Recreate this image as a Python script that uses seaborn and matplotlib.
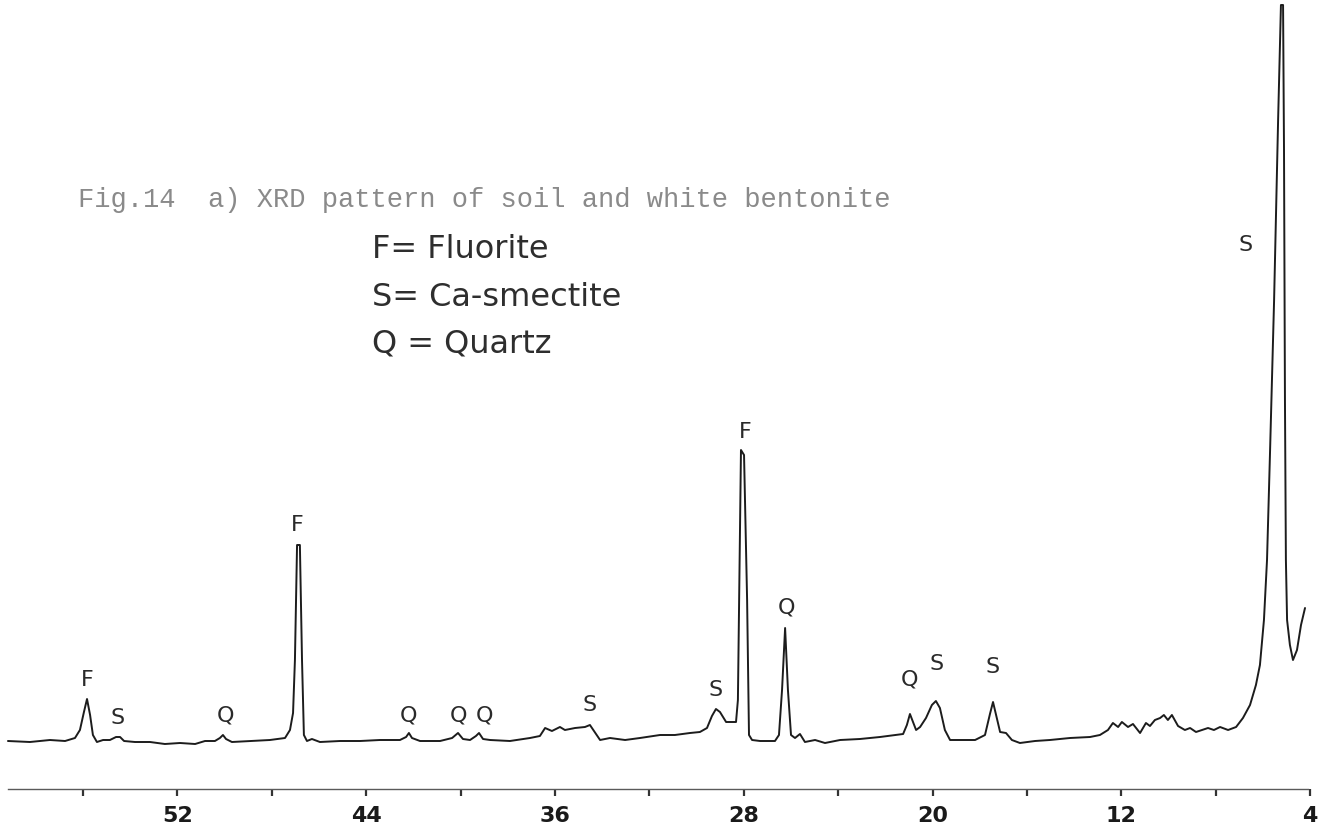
import matplotlib
matplotlib.use("Agg")
import matplotlib.pyplot as plt
import pandas as pd
import seaborn as sns

# ---- data (2-theta in degrees, intensity in arbitrary units) ----
two_theta = [59.18, 58.25, 57.40, 56.76, 56.34, 56.13, 55.96, 55.83, 55.70, 55.58,
             55.41, 55.15, 54.86, 54.60, 54.43, 54.26, 53.80, 53.16, 52.53, 51.89,
             51.25, 50.83, 50.41, 50.20, 50.07, 49.94, 49.69, 48.92, 48.08, 47.44,
             47.23, 47.10, 47.02, 46.93, 46.81, 46.72, 46.64, 46.51, 46.30, 45.96,
             45.11, 44.26, 43.42, 42.57, 42.31, 42.19, 42.06, 41.72, 40.87, 40.36,
             40.11, 39.90, 39.60, 39.35, 39.22, 39.05, 38.75, 37.91, 37.06, 36.64,
             36.42, 36.13, 35.79, 35.58, 35.15, 34.73, 34.52, 34.35, 34.09, 33.67,
             33.03, 32.40, 31.55, 30.92, 30.28, 29.86, 29.56, 29.35, 29.18, 29.01,
             28.75, 28.33, 28.25, 28.12, 27.99, 27.86, 27.78, 27.65, 27.31, 26.68,
             26.51, 26.38, 26.25, 26.13, 26.00, 25.83, 25.62, 25.41, 24.98, 24.56,
             23.92, 23.08, 22.23, 21.59, 21.25, 21.09, 20.96, 20.83, 20.70, 20.53,
             20.28, 20.03, 19.86, 19.69, 19.48, 19.26, 18.84, 18.20, 17.78, 17.57,
             17.44, 17.31, 17.14, 16.89, 16.64, 16.30, 15.66, 15.03, 14.18, 13.33,
             12.91, 12.57, 12.36, 12.14, 11.98, 11.72, 11.51, 11.21, 10.96, 10.79,
             10.58, 10.36, 10.20, 10.03, 9.86, 9.60, 9.31, 9.09, 8.84, 8.59,
             8.33, 8.08, 7.82, 7.48, 7.14, 6.85, 6.55, 6.30, 6.13, 5.96,
             5.83, 5.70, 5.53, 5.36, 5.24, 5.15, 5.11, 5.07, 5.03, 4.98,
             4.86, 4.73, 4.56, 4.39, 4.22]
intensity = [48, 47, 49, 48, 51, 59, 77, 90, 74, 54,
             47, 49, 49, 52, 52, 48, 47, 47, 45, 46,
             45, 48, 48, 51, 54, 50, 47, 48, 49, 51,
             59, 76, 129, 244, 244, 129, 54, 48, 50, 47,
             48, 48, 49, 49, 52, 56, 51, 48, 48, 51,
             56, 50, 49, 53, 56, 50, 49, 48, 51, 53,
             61, 58, 62, 59, 61, 62, 64, 58, 49, 51,
             49, 51, 54, 54, 56, 57, 61, 73, 80, 77,
             67, 67, 89, 339, 334, 189, 54, 49, 48, 48,
             54, 99, 161, 99, 54, 51, 55, 47, 49, 46,
             49, 50, 52, 54, 55, 64, 75, 67, 59, 62,
             71, 84, 88, 81, 59, 49, 49, 49, 54, 75,
             87, 74, 57, 56, 49, 46, 48, 49, 51, 52,
             54, 59, 66, 62, 67, 62, 65, 56, 66, 63,
             69, 71, 74, 69, 74, 63, 59, 61, 57, 59,
             61, 59, 62, 59, 62, 71, 84, 104, 124, 169,
             229, 339, 489, 669, 784, 784, 639, 389, 229, 169,
             144, 129, 139, 164, 181]

peak_letters = ["F", "S", "Q", "F", "Q", "Q", "Q", "S", "S", "F", "Q", "Q", "S", "S", "S"]
peak_positions = [55.83, 54.52, 49.98, 46.93, 42.19, 40.11, 39.00, 34.52, 29.18,
                  27.95, 26.21, 20.96, 19.82, 17.44, 6.76]
peak_label_heights = [109, 71, 74, 264, 73, 73, 73, 84, 99, 357, 182, 109, 125, 122, 544]

all_ticks = [56, 52, 48, 44, 40, 36, 32, 28, 24, 20, 16, 12, 8, 4]
labelled_ticks = [52, 44, 36, 28, 20, 12, 4]

title_text = "Fig.14  a) XRD pattern of soil and white bentonite"
legend_lines = ["F= Fluorite", "S= Ca-smectite", "Q = Quartz"]

# ---- figure ----
sns.set_theme(style="white")
plt.rcParams["font.family"] = ["DejaVu Sans"]

W, H = 1328, 839
fig = plt.figure(figsize=(W / 100, H / 100), dpi=100)
fig.patch.set_facecolor("white")
ax = fig.add_axes([0, 50 / H, 1, 789 / H])
ax.set_facecolor("white")

df = pd.DataFrame({"two_theta": two_theta, "intensity": intensity})
sns.lineplot(data=df, x="two_theta", y="intensity", sort=False, estimator=None,
             color="#1c1c1c", linewidth=1.4, ax=ax)

ax.set_xlim(59.517, 3.246)
ax.set_ylim(0, 789)
ax.set_xlabel("")
ax.set_ylabel("")
ax.set_yticks([])

ax.set_xticks(all_ticks)
ax.set_xticklabels([str(t) if t in labelled_ticks else "" for t in all_ticks],
                   fontsize=16, fontweight="bold", color="#1a1a1a")
ax.tick_params(axis="x", which="major", direction="out", length=5, width=1.6,
               color="#333333", pad=7, bottom=True)

for s in ["top", "left", "right"]:
    ax.spines[s].set_visible(False)
ax.spines["bottom"].set_color("#5a5a5a")
ax.spines["bottom"].set_linewidth(1.0)
ax.spines["bottom"].set_bounds(59.18, 4.1)

for letter, pos, h in zip(peak_letters, peak_positions, peak_label_heights):
    ax.text(pos, h, letter, ha="center", va="center", fontsize=16, color="#2a2a2a")

fig.text(78 / W, 1 - 200 / H, title_text, ha="left", va="center",
         fontsize=19.5, family="Liberation Mono", color="#8a8a8a")

for i, line in enumerate(legend_lines):
    fig.text(372 / W, 1 - (250 + i * 47) / H, line, ha="left", va="center",
             fontsize=23, color="#2e2e2e")

fig.savefig("out.png", dpi=100, facecolor="white")
